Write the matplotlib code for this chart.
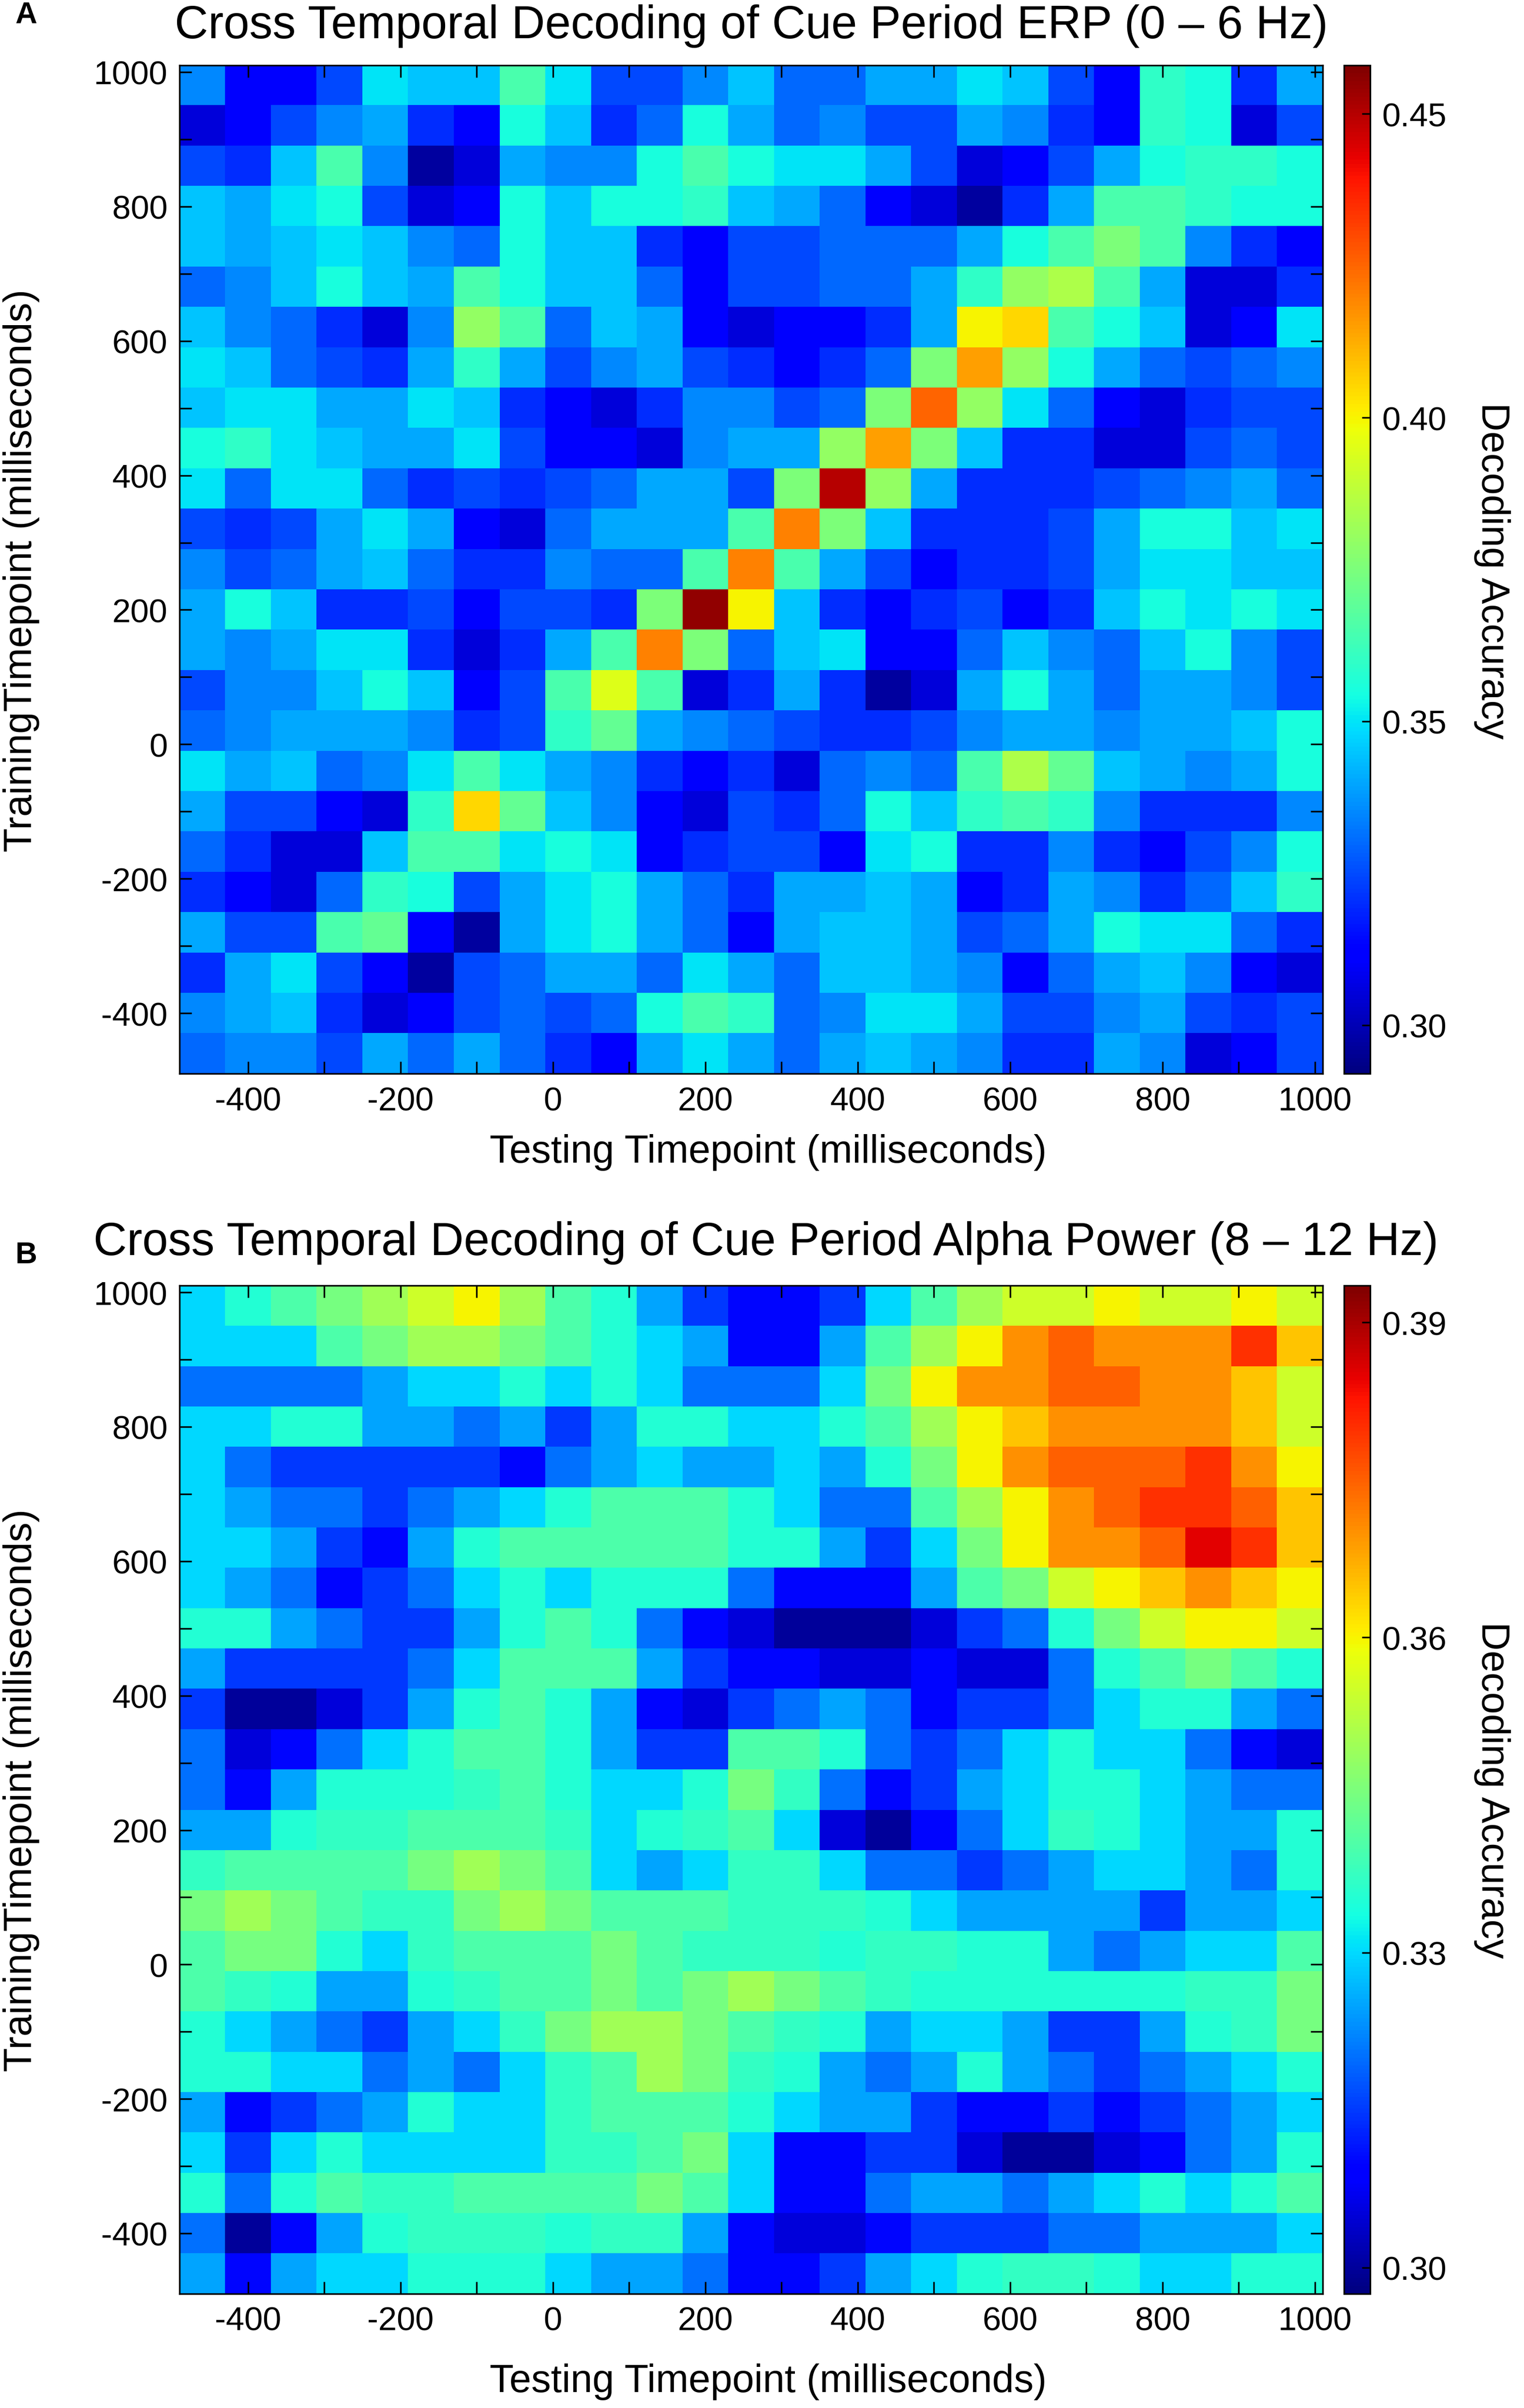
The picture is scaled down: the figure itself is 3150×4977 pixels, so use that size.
import numpy as np
import matplotlib.pyplot as plt
from matplotlib.ticker import MultipleLocator

plt.rcParams['font.family'] = ['Liberation Sans', 'DejaVu Sans']
plt.rcParams['axes.unicode_minus'] = False

# time range of the decoding matrices (ms), same for training and testing axes
t_start, t_end = -490, 1010

# Panel A: ERP (0-6 Hz) decoding accuracy, rows = training time (top = late), cols = testing time
erp_acc = [
    [0.335, 0.313, 0.313, 0.325, 0.35, 0.345, 0.345, 0.365, 0.35, 0.325, 0.325, 0.335, 0.345, 0.33, 0.33, 0.34, 0.34, 0.35, 0.345, 0.325, 0.313, 0.36, 0.355, 0.32, 0.34],
    [0.305, 0.313, 0.325, 0.335, 0.34, 0.32, 0.313, 0.355, 0.345, 0.32, 0.33, 0.355, 0.34, 0.33, 0.335, 0.325, 0.325, 0.34, 0.335, 0.32, 0.313, 0.36, 0.355, 0.305, 0.325],
    [0.325, 0.32, 0.345, 0.365, 0.335, 0.297, 0.305, 0.34, 0.335, 0.335, 0.355, 0.365, 0.355, 0.35, 0.35, 0.34, 0.325, 0.305, 0.313, 0.325, 0.34, 0.355, 0.36, 0.36, 0.355],
    [0.345, 0.34, 0.35, 0.355, 0.325, 0.305, 0.313, 0.355, 0.345, 0.355, 0.355, 0.36, 0.345, 0.34, 0.33, 0.313, 0.305, 0.297, 0.32, 0.34, 0.365, 0.365, 0.36, 0.355, 0.355],
    [0.345, 0.34, 0.345, 0.35, 0.345, 0.335, 0.33, 0.355, 0.345, 0.345, 0.32, 0.313, 0.325, 0.325, 0.33, 0.33, 0.33, 0.34, 0.355, 0.365, 0.375, 0.365, 0.335, 0.32, 0.313],
    [0.33, 0.335, 0.345, 0.355, 0.345, 0.34, 0.365, 0.355, 0.345, 0.345, 0.33, 0.313, 0.325, 0.325, 0.33, 0.33, 0.34, 0.36, 0.38, 0.385, 0.365, 0.34, 0.305, 0.305, 0.32],
    [0.345, 0.335, 0.33, 0.32, 0.305, 0.335, 0.38, 0.365, 0.33, 0.345, 0.34, 0.313, 0.305, 0.313, 0.313, 0.32, 0.34, 0.40, 0.405, 0.365, 0.355, 0.345, 0.305, 0.313, 0.35],
    [0.35, 0.345, 0.33, 0.325, 0.32, 0.34, 0.36, 0.34, 0.325, 0.335, 0.34, 0.325, 0.32, 0.313, 0.32, 0.33, 0.375, 0.415, 0.38, 0.355, 0.34, 0.33, 0.325, 0.33, 0.335],
    [0.345, 0.35, 0.35, 0.34, 0.34, 0.35, 0.345, 0.32, 0.313, 0.305, 0.32, 0.335, 0.335, 0.325, 0.33, 0.375, 0.425, 0.38, 0.35, 0.33, 0.313, 0.305, 0.32, 0.325, 0.325],
    [0.355, 0.36, 0.35, 0.345, 0.34, 0.34, 0.35, 0.325, 0.313, 0.313, 0.305, 0.335, 0.34, 0.34, 0.38, 0.415, 0.375, 0.345, 0.32, 0.32, 0.305, 0.305, 0.325, 0.33, 0.325],
    [0.35, 0.33, 0.35, 0.35, 0.33, 0.32, 0.325, 0.32, 0.325, 0.33, 0.34, 0.34, 0.325, 0.375, 0.45, 0.38, 0.34, 0.32, 0.32, 0.32, 0.325, 0.33, 0.335, 0.34, 0.33],
    [0.325, 0.32, 0.325, 0.34, 0.35, 0.34, 0.313, 0.305, 0.33, 0.34, 0.34, 0.34, 0.365, 0.42, 0.375, 0.345, 0.32, 0.32, 0.32, 0.325, 0.34, 0.355, 0.355, 0.345, 0.35],
    [0.335, 0.325, 0.33, 0.34, 0.345, 0.33, 0.32, 0.32, 0.335, 0.33, 0.33, 0.365, 0.42, 0.365, 0.34, 0.325, 0.313, 0.32, 0.32, 0.325, 0.34, 0.35, 0.35, 0.345, 0.345],
    [0.34, 0.355, 0.345, 0.32, 0.32, 0.325, 0.313, 0.325, 0.325, 0.32, 0.375, 0.455, 0.40, 0.345, 0.32, 0.313, 0.32, 0.325, 0.313, 0.32, 0.345, 0.355, 0.35, 0.355, 0.35],
    [0.34, 0.335, 0.34, 0.35, 0.35, 0.32, 0.305, 0.32, 0.34, 0.365, 0.42, 0.375, 0.33, 0.345, 0.35, 0.313, 0.313, 0.33, 0.345, 0.335, 0.33, 0.345, 0.355, 0.335, 0.325],
    [0.325, 0.335, 0.335, 0.345, 0.355, 0.345, 0.313, 0.325, 0.365, 0.395, 0.365, 0.305, 0.32, 0.34, 0.32, 0.297, 0.305, 0.34, 0.355, 0.34, 0.33, 0.34, 0.34, 0.335, 0.325],
    [0.33, 0.335, 0.34, 0.34, 0.34, 0.335, 0.32, 0.325, 0.36, 0.37, 0.34, 0.335, 0.33, 0.325, 0.32, 0.32, 0.325, 0.335, 0.34, 0.34, 0.335, 0.34, 0.34, 0.345, 0.355],
    [0.35, 0.34, 0.345, 0.33, 0.335, 0.35, 0.365, 0.35, 0.34, 0.335, 0.32, 0.313, 0.32, 0.305, 0.33, 0.335, 0.33, 0.365, 0.385, 0.37, 0.345, 0.34, 0.335, 0.34, 0.355],
    [0.34, 0.325, 0.325, 0.313, 0.305, 0.36, 0.405, 0.37, 0.345, 0.335, 0.313, 0.305, 0.325, 0.32, 0.33, 0.355, 0.345, 0.36, 0.365, 0.36, 0.335, 0.32, 0.32, 0.32, 0.335],
    [0.33, 0.32, 0.305, 0.305, 0.345, 0.365, 0.365, 0.35, 0.355, 0.35, 0.313, 0.32, 0.325, 0.325, 0.313, 0.35, 0.355, 0.32, 0.32, 0.335, 0.32, 0.313, 0.325, 0.335, 0.355],
    [0.32, 0.313, 0.305, 0.33, 0.36, 0.355, 0.325, 0.34, 0.35, 0.355, 0.34, 0.33, 0.32, 0.34, 0.34, 0.345, 0.34, 0.313, 0.32, 0.34, 0.335, 0.32, 0.33, 0.345, 0.36],
    [0.34, 0.325, 0.325, 0.365, 0.37, 0.313, 0.297, 0.34, 0.35, 0.355, 0.34, 0.33, 0.313, 0.34, 0.345, 0.345, 0.34, 0.325, 0.33, 0.34, 0.355, 0.35, 0.35, 0.33, 0.32],
    [0.32, 0.34, 0.35, 0.325, 0.313, 0.297, 0.325, 0.33, 0.34, 0.34, 0.33, 0.35, 0.34, 0.33, 0.345, 0.345, 0.34, 0.335, 0.313, 0.33, 0.34, 0.345, 0.335, 0.313, 0.305],
    [0.335, 0.34, 0.345, 0.32, 0.305, 0.313, 0.325, 0.33, 0.325, 0.33, 0.355, 0.365, 0.36, 0.33, 0.335, 0.35, 0.35, 0.34, 0.325, 0.325, 0.335, 0.34, 0.325, 0.32, 0.325],
    [0.33, 0.335, 0.335, 0.325, 0.34, 0.33, 0.34, 0.33, 0.32, 0.313, 0.34, 0.35, 0.34, 0.33, 0.34, 0.345, 0.34, 0.335, 0.32, 0.32, 0.34, 0.335, 0.305, 0.313, 0.325],
]

# Panel B: alpha power (8-12 Hz) decoding accuracy
alpha_acc = [
    [0.33, 0.335, 0.34, 0.345, 0.35, 0.355, 0.36, 0.35, 0.34, 0.335, 0.325, 0.315, 0.31, 0.31, 0.315, 0.33, 0.34, 0.35, 0.355, 0.355, 0.36, 0.355, 0.355, 0.36, 0.355],
    [0.33, 0.33, 0.33, 0.34, 0.345, 0.35, 0.35, 0.345, 0.34, 0.335, 0.33, 0.325, 0.31, 0.31, 0.325, 0.34, 0.35, 0.36, 0.37, 0.375, 0.37, 0.37, 0.37, 0.38, 0.365],
    [0.32, 0.32, 0.32, 0.32, 0.325, 0.33, 0.33, 0.335, 0.33, 0.335, 0.33, 0.32, 0.32, 0.32, 0.33, 0.345, 0.36, 0.37, 0.37, 0.375, 0.375, 0.37, 0.37, 0.365, 0.355],
    [0.33, 0.33, 0.335, 0.335, 0.325, 0.325, 0.32, 0.325, 0.315, 0.325, 0.335, 0.335, 0.33, 0.33, 0.335, 0.34, 0.35, 0.36, 0.365, 0.37, 0.37, 0.37, 0.37, 0.365, 0.355],
    [0.33, 0.32, 0.315, 0.315, 0.315, 0.315, 0.315, 0.31, 0.32, 0.325, 0.33, 0.325, 0.325, 0.33, 0.325, 0.335, 0.345, 0.36, 0.37, 0.375, 0.375, 0.375, 0.38, 0.37, 0.36],
    [0.33, 0.325, 0.32, 0.32, 0.315, 0.32, 0.325, 0.33, 0.335, 0.34, 0.34, 0.34, 0.335, 0.33, 0.32, 0.32, 0.34, 0.35, 0.36, 0.37, 0.375, 0.38, 0.38, 0.375, 0.365],
    [0.33, 0.33, 0.325, 0.315, 0.31, 0.325, 0.335, 0.34, 0.34, 0.34, 0.34, 0.34, 0.335, 0.335, 0.325, 0.315, 0.33, 0.345, 0.36, 0.37, 0.37, 0.375, 0.385, 0.38, 0.365],
    [0.33, 0.325, 0.32, 0.31, 0.315, 0.32, 0.33, 0.335, 0.33, 0.335, 0.335, 0.335, 0.32, 0.31, 0.31, 0.31, 0.325, 0.34, 0.345, 0.355, 0.36, 0.365, 0.37, 0.365, 0.36],
    [0.335, 0.335, 0.325, 0.32, 0.315, 0.315, 0.325, 0.335, 0.34, 0.335, 0.32, 0.31, 0.305, 0.30, 0.30, 0.30, 0.305, 0.315, 0.32, 0.335, 0.345, 0.355, 0.36, 0.36, 0.355],
    [0.325, 0.315, 0.315, 0.315, 0.315, 0.32, 0.33, 0.34, 0.34, 0.34, 0.325, 0.315, 0.31, 0.31, 0.305, 0.305, 0.31, 0.305, 0.305, 0.32, 0.335, 0.34, 0.345, 0.34, 0.335],
    [0.315, 0.30, 0.30, 0.305, 0.315, 0.325, 0.335, 0.34, 0.335, 0.325, 0.31, 0.305, 0.315, 0.32, 0.325, 0.32, 0.31, 0.315, 0.315, 0.32, 0.33, 0.335, 0.335, 0.325, 0.32],
    [0.32, 0.305, 0.31, 0.32, 0.33, 0.335, 0.34, 0.34, 0.335, 0.325, 0.315, 0.315, 0.34, 0.34, 0.335, 0.32, 0.315, 0.32, 0.33, 0.335, 0.33, 0.33, 0.32, 0.31, 0.305],
    [0.32, 0.31, 0.325, 0.335, 0.335, 0.335, 0.337, 0.34, 0.335, 0.33, 0.33, 0.335, 0.345, 0.337, 0.32, 0.31, 0.315, 0.325, 0.33, 0.335, 0.335, 0.33, 0.325, 0.32, 0.32],
    [0.325, 0.325, 0.335, 0.337, 0.337, 0.34, 0.34, 0.34, 0.337, 0.33, 0.335, 0.337, 0.34, 0.33, 0.305, 0.30, 0.31, 0.32, 0.33, 0.337, 0.335, 0.33, 0.325, 0.325, 0.335],
    [0.337, 0.34, 0.34, 0.34, 0.34, 0.345, 0.35, 0.345, 0.34, 0.33, 0.325, 0.33, 0.337, 0.337, 0.33, 0.32, 0.32, 0.315, 0.32, 0.325, 0.33, 0.33, 0.325, 0.32, 0.335],
    [0.345, 0.35, 0.345, 0.34, 0.337, 0.337, 0.345, 0.35, 0.345, 0.34, 0.34, 0.34, 0.337, 0.337, 0.337, 0.335, 0.33, 0.325, 0.325, 0.325, 0.325, 0.315, 0.325, 0.325, 0.33],
    [0.34, 0.345, 0.345, 0.335, 0.33, 0.337, 0.34, 0.34, 0.34, 0.345, 0.34, 0.337, 0.337, 0.337, 0.335, 0.337, 0.337, 0.335, 0.335, 0.325, 0.32, 0.325, 0.33, 0.33, 0.34],
    [0.34, 0.337, 0.335, 0.325, 0.325, 0.335, 0.337, 0.34, 0.34, 0.345, 0.34, 0.345, 0.35, 0.345, 0.34, 0.337, 0.335, 0.335, 0.335, 0.335, 0.335, 0.335, 0.337, 0.337, 0.345],
    [0.335, 0.33, 0.325, 0.32, 0.315, 0.325, 0.33, 0.337, 0.345, 0.35, 0.35, 0.345, 0.34, 0.337, 0.335, 0.325, 0.33, 0.33, 0.325, 0.315, 0.315, 0.325, 0.335, 0.337, 0.345],
    [0.335, 0.335, 0.33, 0.33, 0.32, 0.325, 0.32, 0.33, 0.337, 0.34, 0.35, 0.345, 0.337, 0.335, 0.325, 0.32, 0.325, 0.335, 0.325, 0.32, 0.315, 0.32, 0.325, 0.33, 0.335],
    [0.325, 0.31, 0.315, 0.32, 0.325, 0.335, 0.33, 0.33, 0.337, 0.34, 0.34, 0.34, 0.335, 0.33, 0.325, 0.325, 0.315, 0.31, 0.31, 0.315, 0.31, 0.315, 0.32, 0.325, 0.33],
    [0.33, 0.315, 0.33, 0.335, 0.33, 0.33, 0.33, 0.33, 0.337, 0.337, 0.34, 0.345, 0.33, 0.31, 0.31, 0.315, 0.315, 0.305, 0.30, 0.30, 0.305, 0.31, 0.32, 0.325, 0.335],
    [0.335, 0.32, 0.335, 0.34, 0.337, 0.337, 0.34, 0.34, 0.34, 0.34, 0.345, 0.34, 0.33, 0.31, 0.31, 0.32, 0.325, 0.325, 0.32, 0.325, 0.33, 0.335, 0.33, 0.335, 0.34],
    [0.32, 0.30, 0.31, 0.325, 0.335, 0.337, 0.337, 0.337, 0.335, 0.337, 0.337, 0.325, 0.31, 0.305, 0.305, 0.31, 0.315, 0.315, 0.315, 0.32, 0.32, 0.325, 0.325, 0.325, 0.33],
    [0.325, 0.31, 0.325, 0.33, 0.33, 0.335, 0.335, 0.335, 0.33, 0.325, 0.325, 0.32, 0.31, 0.31, 0.315, 0.325, 0.33, 0.335, 0.337, 0.337, 0.335, 0.33, 0.33, 0.335, 0.335],
]

erp_clim = (0.292, 0.458)
alpha_clim = (0.2975, 0.3935)
erp_cbar_ticks = [0.30, 0.35, 0.40, 0.45]
alpha_cbar_ticks = [0.30, 0.33, 0.36, 0.39]
tick_labels_ms = [-400, -200, 0, 200, 400, 600, 800, 1000]

fig = plt.figure(figsize=(10.5, 16.593), dpi=300)


def draw_panel(ax, cax, data, clim, cticks):
    im = ax.imshow(np.array(data), cmap='jet', vmin=clim[0], vmax=clim[1],
                   extent=[t_start, t_end, t_start, t_end], origin='upper',
                   aspect='auto', interpolation='nearest')
    ax.set_xlim(t_start, t_end)
    ax.set_ylim(t_start, t_end)
    ax.set_xticks(tick_labels_ms)
    ax.set_yticks(tick_labels_ms)
    ax.xaxis.set_minor_locator(MultipleLocator(100))
    ax.yaxis.set_minor_locator(MultipleLocator(100))
    ax.tick_params(which='both', direction='in', top=True, right=True,
                   length=6, width=0.8, labelsize=16.5, pad=6)
    for s in ax.spines.values():
        s.set_linewidth(0.8)
    cb = fig.colorbar(im, cax=cax)
    cb.set_ticks(cticks)
    cb.ax.set_yticklabels([f'{t:.2f}' for t in cticks])
    cb.ax.tick_params(direction='in', length=4, width=0.8, labelsize=16.5, pad=6)
    cb.outline.set_linewidth(0.8)
    return im


axA = fig.add_axes([0.1178, 0.554, 0.750, 0.4187])
caxA = fig.add_axes([0.882, 0.554, 0.017, 0.4187])
draw_panel(axA, caxA, erp_acc, erp_clim, erp_cbar_ticks)

axB = fig.add_axes([0.1178, 0.0474, 0.750, 0.4186])
caxB = fig.add_axes([0.882, 0.0474, 0.017, 0.4186])
draw_panel(axB, caxB, alpha_acc, alpha_clim, alpha_cbar_ticks)

# titles, labels and panel letters
fig.text(0.493, 0.9892, 'Cross Temporal Decoding of Cue Period ERP (0 \u2013 6 Hz)',
         ha='center', va='center', fontsize=23)
fig.text(0.5026, 0.484, 'Cross Temporal Decoding of Cue Period Alpha Power (8 \u2013 12 Hz)',
         ha='center', va='center', fontsize=23)
fig.text(0.010, 0.9936, 'A', ha='left', va='center', fontsize=15, fontweight='bold')
fig.text(0.010, 0.4787, 'B', ha='left', va='center', fontsize=15, fontweight='bold')

fig.text(0.504, 0.5215, 'Testing Timepoint (milliseconds)', ha='center', va='center', fontsize=19.5)
fig.text(0.504, 0.011, 'Testing Timepoint (milliseconds)', ha='center', va='center', fontsize=19.5)
fig.text(0.0141, 0.763, 'TrainingTimepoint (milliseconds)', ha='center', va='center',
         rotation=90, fontsize=19.5)
fig.text(0.0141, 0.2567, 'TrainingTimepoint (milliseconds)', ha='center', va='center',
         rotation=90, fontsize=19.5)
fig.text(0.979, 0.763, 'Decoding Accuracy', ha='center', va='center', rotation=-90, fontsize=19.5)
fig.text(0.979, 0.2567, 'Decoding Accuracy', ha='center', va='center', rotation=-90, fontsize=19.5)

fig.savefig('out.png', dpi=300)
